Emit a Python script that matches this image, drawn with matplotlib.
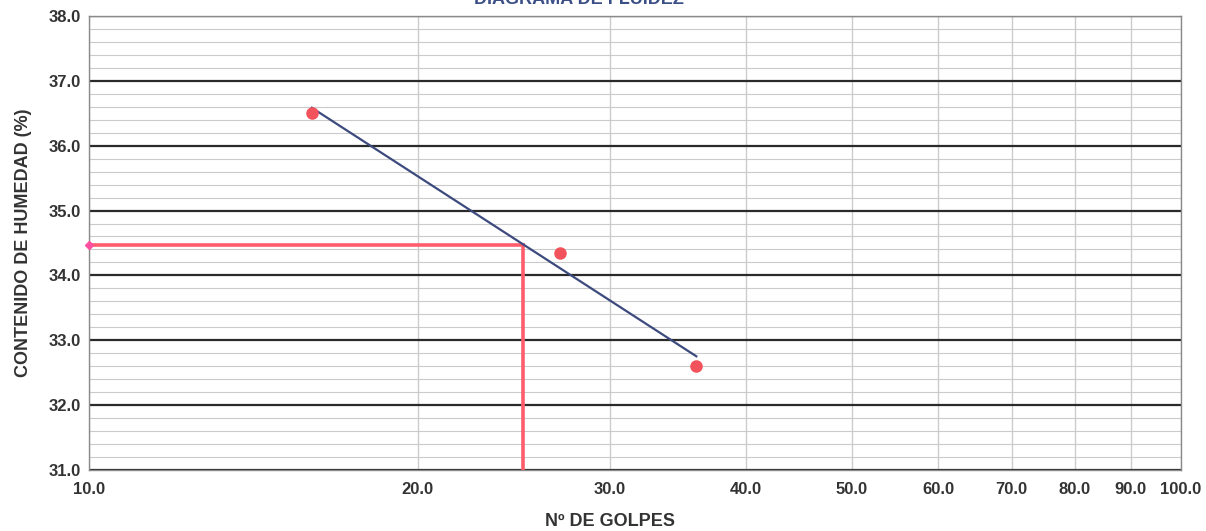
import numpy as np
import matplotlib
matplotlib.use("Agg")
import matplotlib.pyplot as plt
from matplotlib.ticker import FixedLocator, FixedFormatter, MultipleLocator, NullLocator

plt.rcParams["font.family"] = ["Liberation Sans", "DejaVu Sans"]

# data
golpes = [16, 27, 36]
humedad = [36.5, 34.35, 32.6]
lim_golpes = 25
x_ticks = [10, 20, 30, 40, 50, 60, 70, 80, 90, 100]
x_labels = ["10.0", "20.0", "30.0", "40.0", "50.0", "60.0", "70.0", "80.0", "90.0", "100.0"]
y_ticks = [31, 32, 33, 34, 35, 36, 37, 38]

POINT = "#f2525c"
TREND = "#3d4a7e"
GUIDE = "#ff5c6c"

# logarithmic trend line (as in the spreadsheet)
slope, icpt = np.polyfit(np.log(golpes), humedad, 1)
tx = np.array([min(golpes), max(golpes)])
ty = slope * np.log(tx) + icpt
lim_hum = slope * np.log(lim_golpes) + icpt

fig = plt.figure(figsize=(12.06, 5.31), dpi=100)
ax = fig.add_axes([0.0738, 0.1149, 0.9052, 0.855])

ax.set_xscale("log")
ax.set_xlim(10, 100)
ax.set_ylim(31, 38)

ax.xaxis.set_major_locator(FixedLocator(x_ticks))
ax.xaxis.set_major_formatter(FixedFormatter(x_labels))
ax.xaxis.set_minor_locator(NullLocator())
ax.yaxis.set_major_locator(FixedLocator(y_ticks))
ax.yaxis.set_major_formatter(FixedFormatter([f"{v:.1f}" for v in y_ticks]))
ax.yaxis.set_minor_locator(MultipleLocator(0.2))

ax.grid(axis="x", which="major", color="#cccccc", lw=1.0)
ax.grid(axis="y", which="minor", color="#cacaca", lw=0.8)
ax.grid(axis="y", which="major", color="#2a2a2a", lw=1.6)
ax.set_axisbelow(True)

for sp in ax.spines.values():
    sp.set_color("#8a8a8a")
    sp.set_linewidth(1.0)

ax.tick_params(axis="both", which="both", length=0)
ax.tick_params(axis="x", pad=9)
ax.tick_params(axis="y", pad=6)
for lab in ax.get_xticklabels() + ax.get_yticklabels():
    lab.set_fontweight("bold")
    lab.set_fontsize(12)
    lab.set_color("#333333")

# guide lines at 25 golpes
ax.plot([10, lim_golpes], [lim_hum, lim_hum], color=GUIDE, lw=2.6, zorder=3)
ax.plot([lim_golpes, lim_golpes], [31, lim_hum], color=GUIDE, lw=2.6, zorder=3)
ax.plot([10], [lim_hum], marker="D", color="#ff4fa0", ms=4, zorder=4, clip_on=False)

ax.plot(tx, ty, color=TREND, lw=1.6, zorder=4)
ax.plot(golpes, humedad, "o", color=POINT, ms=8, zorder=5)

ax.set_xlabel("Nº DE GOLPES", fontsize=13, fontweight="bold", color="#333333")
ax.xaxis.set_label_coords(0.477, -0.095)
ax.set_ylabel("CONTENIDO DE HUMEDAD (%)", fontsize=13, fontweight="bold", color="#333333")
ax.yaxis.set_label_coords(-0.052, 0.5)

fig.text(0.48, 1.0, "DIAGRAMA DE FLUIDEZ", ha="center", va="center",
         fontsize=13, fontweight="bold", color="#3b4f86")

fig.savefig("out.png", dpi=100)
